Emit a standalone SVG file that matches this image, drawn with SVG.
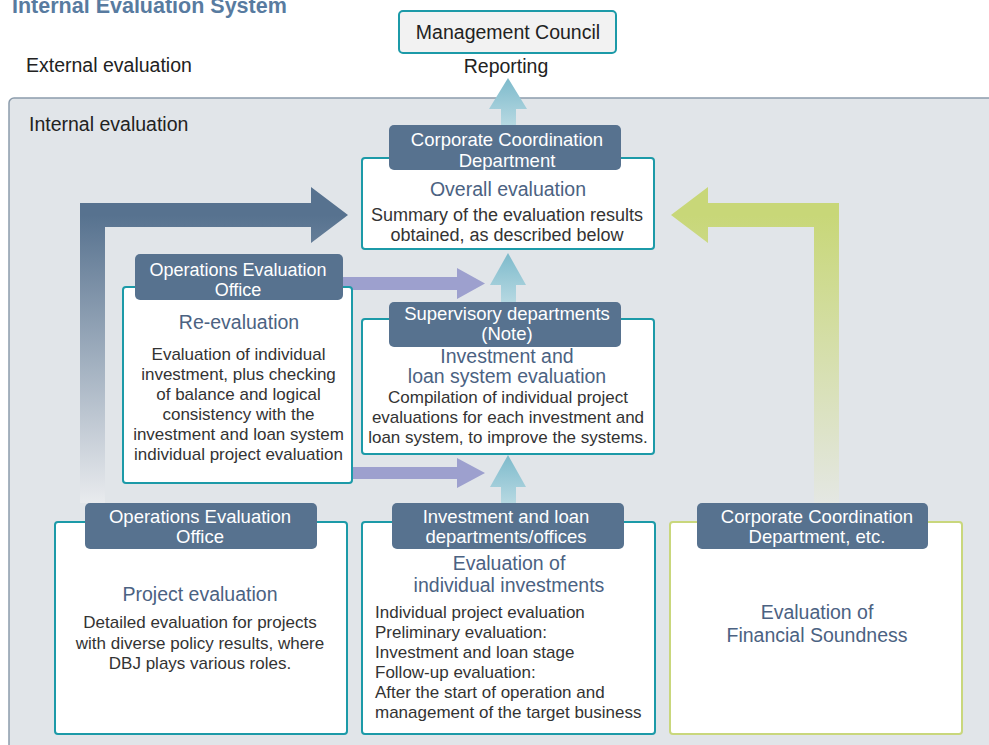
<svg xmlns="http://www.w3.org/2000/svg" width="989" height="745" viewBox="0 0 989 745">
<defs>
<style>
text{font-family:"Liberation Sans",Arial,sans-serif}
.title{font-size:21.5px;font-weight:bold;fill:#587ba0}
.lbl{font-size:19.5px;fill:#222}
.hd{font-size:18.5px;fill:#fff;text-anchor:middle}
.h{font-size:19.5px;fill:#4b6282;text-anchor:middle}
.b{font-size:17px;fill:#333;text-anchor:middle}
.bl{font-size:17px;fill:#333}
.box{fill:#fff;stroke:#1c9aa8;stroke-width:2}
.gbox{fill:#fff;stroke:#c9d77c;stroke-width:2}
.tag{fill:#57728f}
.purple{fill:#9da0ce}
</style>
<linearGradient id="gDark" gradientUnits="userSpaceOnUse" x1="0" y1="215" x2="0" y2="503">
<stop offset="0" stop-color="#57728f"/>
<stop offset="1" stop-color="#e9ebee"/>
</linearGradient>
<linearGradient id="gGreen" gradientUnits="userSpaceOnUse" x1="0" y1="215" x2="0" y2="503">
<stop offset="0" stop-color="#c8d778"/>
<stop offset="1" stop-color="#e4e7e3"/>
</linearGradient>
<linearGradient id="gBlue" x1="0" y1="0" x2="0" y2="1">
<stop offset="0" stop-color="#7dbacb"/>
<stop offset="1" stop-color="#b9dae3"/>
</linearGradient>
</defs>

<text class="title" x="12" y="13">Internal Evaluation System</text>
<text class="lbl" x="26" y="72">External evaluation</text>

<rect x="9" y="98" width="1000" height="700" rx="5" fill="#e1e5e9" stroke="#8c9cac" stroke-width="1.5"/>
<text class="lbl" x="29" y="131">Internal evaluation</text>

<g id="connectors">
<path d="M501,127 L501,109 L489,109 L508,78 L527,109 L516,109 L516,127 Z" fill="url(#gBlue)"/>
<path d="M80,503 L80,203 L311,203 L311,187 L348,215 L311,243 L311,227 L105,227 L105,503 Z" fill="url(#gDark)"/>
<path d="M839,503 L839,203 L708,203 L708,187 L671,215 L708,243 L708,227 L814,227 L814,503 Z" fill="url(#gGreen)"/>
<path class="purple" d="M340,277 L457,277 L457,268 L485,283.5 L457,299 L457,290 L340,290 Z"/>
<path class="purple" d="M350,467 L457,467 L457,458 L485,473 L457,488 L457,479 L350,479 Z"/>
<path d="M501,305 L501,285 L490,285 L508,253 L526,285 L516,285 L516,305 Z" fill="url(#gBlue)"/>
<path d="M501,505 L501,487 L490,487 L508,455 L526,487 L516,487 L516,505 Z" fill="url(#gBlue)"/>
</g>

<g id="management-council">
<rect x="399" y="11" width="217" height="42" rx="4" fill="#f2f2f2" stroke="#1c9aa8" stroke-width="2"/>
<text class="lbl" x="508" y="39" text-anchor="middle">Management Council</text>
<text class="lbl" x="506" y="73" text-anchor="middle">Reporting</text>
</g>

<g id="overall-evaluation">
<rect class="box" x="362" y="158" width="292" height="91" rx="3"/>
<rect class="tag" x="389" y="125" width="232" height="45" rx="5"/>
<text class="hd" x="507" y="146">Corporate Coordination</text>
<text class="hd" x="507" y="167">Department</text>
<text class="h" x="508" y="196">Overall evaluation</text>
<text class="b" x="507" y="221" style="font-size:18px">Summary of the evaluation results</text>
<text class="b" x="507" y="241" style="font-size:18px">obtained, as described below</text>
</g>

<g id="re-evaluation">
<rect class="box" x="123" y="287" width="229" height="196" rx="3"/>
<rect class="tag" x="135" y="254" width="208" height="46" rx="5"/>
<text class="hd" x="238" y="276" style="font-size:18px">Operations Evaluation</text>
<text class="hd" x="238" y="296" style="font-size:18px">Office</text>
<text class="h" x="239" y="329">Re-evaluation</text>
<text class="b" x="238.5" y="360">Evaluation of individual</text>
<text class="b" x="238.5" y="380">investment, plus checking</text>
<text class="b" x="238.5" y="400">of balance and logical</text>
<text class="b" x="238.5" y="420">consistency with the</text>
<text class="b" x="238.5" y="440">investment and loan system</text>
<text class="b" x="238.5" y="460">individual project evaluation</text>
</g>

<g id="system-evaluation">
<rect class="box" x="362" y="319" width="292" height="135" rx="3"/>
<rect class="tag" x="389" y="302" width="232" height="45" rx="5"/>
<text class="hd" x="507" y="320">Supervisory departments</text>
<text class="hd" x="507" y="340">(Note)</text>
<text class="h" x="507" y="363">Investment and</text>
<text class="h" x="507" y="383">loan system evaluation</text>
<text class="b" x="508" y="403">Compilation of individual project</text>
<text class="b" x="508" y="423">evaluations for each investment and</text>
<text class="b" x="508" y="443">loan system, to improve the systems.</text>
</g>

<g id="project-evaluation">
<rect class="box" x="55" y="522" width="292" height="212" rx="3"/>
<rect class="tag" x="85" y="503" width="232" height="46" rx="5"/>
<text class="hd" x="200" y="523">Operations Evaluation</text>
<text class="hd" x="200" y="543">Office</text>
<text class="h" x="200" y="601">Project evaluation</text>
<text class="b" x="200" y="628">Detailed evaluation for projects</text>
<text class="b" x="200" y="648.5">with diverse policy results, where</text>
<text class="b" x="200" y="669">DBJ plays various roles.</text>
</g>

<g id="individual-investments">
<rect class="box" x="362" y="522" width="293" height="212" rx="3"/>
<rect class="tag" x="392" y="503" width="232" height="46" rx="5"/>
<text class="hd" x="506" y="523">Investment and loan</text>
<text class="hd" x="506" y="543">departments/offices</text>
<text class="h" x="509" y="570">Evaluation of</text>
<text class="h" x="509" y="592">individual investments</text>
<text class="bl" x="375" y="618">Individual project evaluation</text>
<text class="bl" x="375" y="638">Preliminary evaluation:</text>
<text class="bl" x="375" y="658">Investment and loan stage</text>
<text class="bl" x="375" y="678">Follow-up evaluation:</text>
<text class="bl" x="375" y="698">After the start of operation and</text>
<text class="bl" x="375" y="718">management of the target business</text>
</g>

<g id="financial-soundness">
<rect class="gbox" x="670" y="522" width="292" height="212" rx="3"/>
<rect class="tag" x="697" y="503" width="231" height="46" rx="5"/>
<text class="hd" x="817" y="523">Corporate Coordination</text>
<text class="hd" x="817" y="543">Department, etc.</text>
<text class="h" x="817" y="619">Evaluation of</text>
<text class="h" x="817" y="642">Financial Soundness</text>
</g>
</svg>
